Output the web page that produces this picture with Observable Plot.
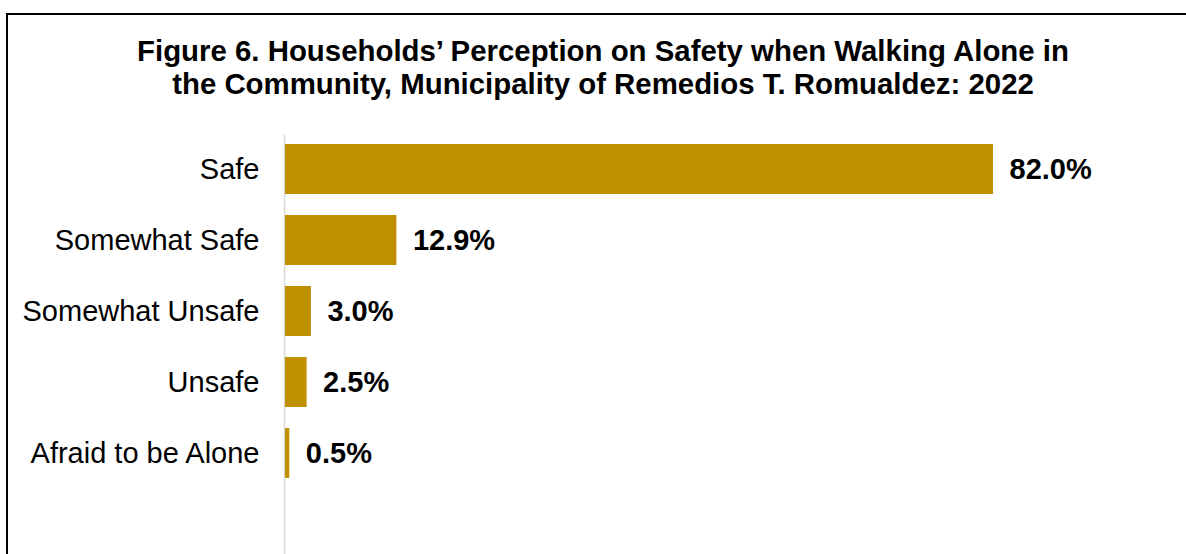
<!DOCTYPE html>
<html>
<head>
<meta charset="utf-8">
<script src="https://cdn.jsdelivr.net/npm/d3@7"></script>
<script src="https://cdn.jsdelivr.net/npm/@observablehq/plot@0.6"></script>
<style>
  html, body { margin: 0; padding: 0; background: #fff; }
  body { width: 1186px; height: 554px; position: relative; overflow: hidden; font-family: Arial, "Liberation Sans", sans-serif; }
  #frame { position: absolute; left: 6px; top: 13px; right: -4px; bottom: -10px; border-left: 2px solid #000; border-top: 2px solid #000; }
  #title { position: absolute; left: 0; top: 35px; width: 1206px; text-align: center; font-weight: bold; font-size: 29.4px; line-height: 32.5px; color: #000; z-index: 2; }
  #chart { position: absolute; left: 0; top: 0; }
</style>
</head>
<body>
<div id="frame"></div>
<div id="title">Figure 6. Households’ Perception on Safety when Walking Alone in<br>the Community, Municipality of Remedios T. Romualdez: 2022</div>
<div id="chart"></div>
<script>
const categories = ["Safe", "Somewhat Safe", "Somewhat Unsafe", "Unsafe", "Afraid to be Alone"];
const percentages = [82.0, 12.9, 3.0, 2.5, 0.5];
const valueLabels = ["82.0%", "12.9%", "3.0%", "2.5%", "0.5%"];

const data = categories.map((c, i) => ({category: c, value: percentages[i], label: valueLabels[i]}));

const chart = Plot.plot({
  width: 1186,
  height: 554,
  marginLeft: 285,
  marginRight: 0,
  marginTop: 135,
  marginBottom: 0,
  style: {fontFamily: "Arial, 'Liberation Sans', sans-serif", color: "#000", background: "transparent"},
  x: {domain: [0, 82], range: [285, 993], axis: null},
  y: {domain: categories, range: [122.6, 500], padding: 0.3, label: null},
  marks: [
    Plot.ruleX([0], {stroke: "#d9d9d9", strokeWidth: 1.5, dx: -1}),
    Plot.barX(data, {x: "value", y: "category", fill: "#BF9000"}),
    Plot.text(data, {x: "value", y: "category", text: "label", dx: 16, textAnchor: "start", fontSize: 29, fontWeight: "bold", fill: "#000"}),
    Plot.axisY({tickSize: 0, tickPadding: 26, fontSize: 29, fill: "#000", label: null})
  ]
});
document.getElementById("chart").appendChild(chart);
</script>
</body>
</html>
